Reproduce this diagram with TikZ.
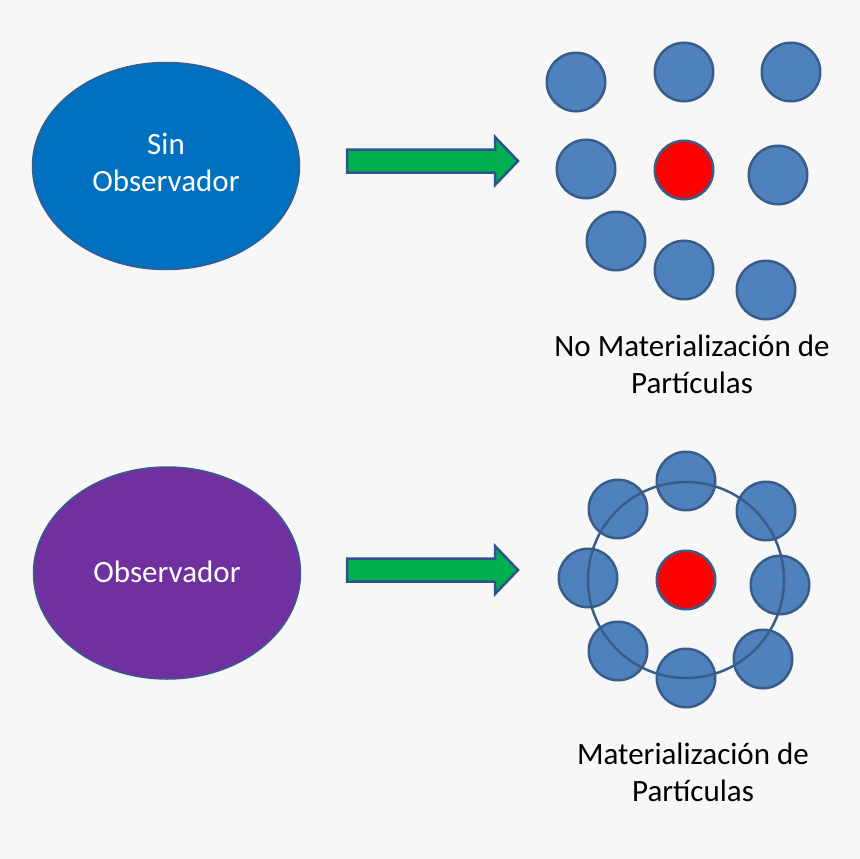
\documentclass[tikz,border=0pt]{standalone}
\usepackage{fontspec}
\setmainfont{Carlito}
\usetikzlibrary{shapes.geometric}
\definecolor{bgcol}{RGB}{247,247,248}
\definecolor{obsblue}{RGB}{0,112,192}
\definecolor{obspurple}{RGB}{112,48,160}
\definecolor{partblue}{RGB}{79,129,189}
\definecolor{partedge}{RGB}{56,93,138}
\definecolor{arrowgreen}{RGB}{0,176,80}
\definecolor{arrowedge}{RGB}{47,82,143}
\tikzset{
  observer/.style={ellipse, draw=partedge, line width=1.5pt,
    minimum width=267pt, minimum height=207pt, inner sep=0pt},
  obstext/.style={text=white, align=center, font=\fontsize{31}{37}\selectfont},
  particle/.style={circle, draw=partedge, line width=2.5pt, fill=partblue,
    minimum size=58.5pt, inner sep=0pt},
  nucleus/.style={particle, fill=red},
  caption/.style={align=center, font=\fontsize{31}{37}\selectfont},
  blockarrow/.style={fill=arrowgreen, draw=arrowedge, line width=2.5pt, line join=miter}
}
\begin{document}
\begin{tikzpicture}[x=1pt,y=-1pt]
  % Background
  \fill[bgcol] (0,0) rectangle (860,859);
  \useasboundingbox (0,0) rectangle (860,859);

  % Observers
  \node[observer, fill=obsblue] (sinobs) at (166,166) {};
  \node[obstext] (sinobstext) at ([yshift=4pt]sinobs.center) {Sin\\Observador};
  \node[observer, fill=obspurple, minimum height=212pt] (obs) at (167,573) {};
  \node[obstext] (obstext) at ([yshift=1pt]obs.center) {Observador};

  % Block arrows
  \foreach \y/\name in {161/arrowtop,570/arrowbot} {
    \draw[blockarrow] (347,\y-11.5) -- (495,\y-11.5) -- (495,\y-24) -- (518,\y)
      -- (495,\y+24) -- (495,\y+11.5) -- (347,\y+11.5) -- cycle;
    \coordinate (\name) at (518,\y);
  }

  % Scattered particles
  \foreach \x/\y [count=\i] in {576/82,684/72,791/72,586/169,778/175,616/241,684/270,766/290} {
    \node[particle] (free\i) at (\x,\y) {}; % Particle
  }
  \node[nucleus] (redtop) at (684,170) {};

  % Bound particles
  \foreach \x/\y [count=\i] in {686/481,766/511,780/585,763/659,686/678,618/651,588/578,618/509} {
    \node[particle] (bound\i) at (\x,\y) {}; % Particle
  }
  \node[nucleus] (redbot) at (686,580) {};
  \node[circle, draw=partedge, line width=2.5pt, minimum size=196pt, inner sep=0pt] (ring) at (686,580) {};

  % Captions
  \node[caption] (captop) at (692,364) {No Materialización de\\Partículas};
  \node[caption] (capbot) at (693,772) {Materialización de\\Partículas};
\end{tikzpicture}
\end{document}
